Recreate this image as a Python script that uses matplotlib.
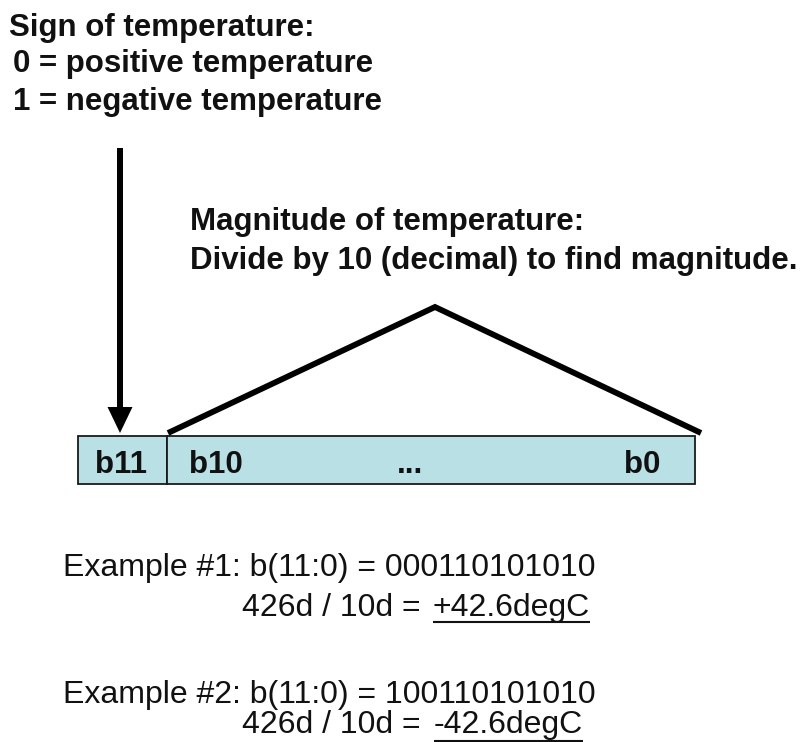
import matplotlib
matplotlib.use("Agg")
import matplotlib.pyplot as plt
from matplotlib.patches import Rectangle, FancyArrow

plt.rcParams['font.family'] = ['Liberation Sans', 'DejaVu Sans']

# ---- content ----
sign_lines = ["Sign of temperature:", "0 = positive temperature", "1 = negative temperature"]
mag_lines = ["Magnitude of temperature:", "Divide by 10 (decimal) to find magnitude."]
bit_labels = ["b11", "b10", "...", "b0"]
example_headers = ["Example #1: b(11:0) = 000110101010", "Example #2: b(11:0) = 100110101010"]
example_calc = ["426d / 10d =", "426d / 10d ="]
example_results = ["+42.6degC", "-42.6degC"]

W, H = 812, 742
fig = plt.figure(figsize=(W / 100, H / 100), dpi=100)
ax = fig.add_axes([0, 0, 1, 1])
ax.set_xlim(0, W)
ax.set_ylim(H, 0)
ax.axis('off')

txt = '#111111'
BOLD = 22.5
REG = 23

# sign text (baselines)
ax.text(9, 36, sign_lines[0], fontsize=BOLD, fontweight='bold', color=txt, va='baseline', ha='left')
ax.text(13, 72, sign_lines[1], fontsize=BOLD, fontweight='bold', color=txt, va='baseline', ha='left')
ax.text(13, 110, sign_lines[2], fontsize=BOLD, fontweight='bold', color=txt, va='baseline', ha='left')

# magnitude text
ax.text(190, 230, mag_lines[0], fontsize=BOLD, fontweight='bold', color=txt, va='baseline', ha='left')
ax.text(190, 269, mag_lines[1], fontsize=BOLD, fontweight='bold', color=txt, va='baseline', ha='left')

# register box
box_l, box_r, box_t, box_b, div_x = 78, 695, 436, 484, 167
fill = '#b9e0e5'
ax.add_patch(Rectangle((box_l, box_t), div_x - box_l, box_b - box_t, facecolor=fill, edgecolor='#1a1a1a', lw=1.3))
ax.add_patch(Rectangle((div_x, box_t), box_r - div_x, box_b - box_t, facecolor=fill, edgecolor='#1a1a1a', lw=1.3))
base = 473
ax.text(95, base, bit_labels[0], fontsize=BOLD, fontweight='bold', color=txt, va='baseline', ha='left')
ax.text(189, base, bit_labels[1], fontsize=BOLD, fontweight='bold', color=txt, va='baseline', ha='left')
ax.text(410, base, bit_labels[2], fontsize=BOLD, fontweight='bold', color=txt, va='baseline', ha='center')
ax.text(624, base, bit_labels[3], fontsize=BOLD, fontweight='bold', color=txt, va='baseline', ha='left')

# sign arrow
ax.add_patch(FancyArrow(120, 148, 0, 285, width=6, head_width=25, head_length=26,
                        length_includes_head=True, color='black', lw=0))

# magnitude bracket
ax.plot([168, 435, 701], [433, 307, 433], color='black', lw=4.2, solid_capstyle='butt', solid_joinstyle='miter')

# examples
ex_y = [576, 703]
calc_y = [616, 733]
ul_y = [622, 740.5]
res_x = [433, 434]
results = []
for i in range(2):
    ax.text(63, ex_y[i], example_headers[i], fontsize=REG, color=txt, va='baseline', ha='left')
    ax.text(242, calc_y[i], example_calc[i], fontsize=REG, color=txt, va='baseline', ha='left')
    results.append(ax.text(res_x[i], calc_y[i], example_results[i], fontsize=REG, color=txt,
                           va='baseline', ha='left'))

fig.canvas.draw()
r = fig.canvas.get_renderer()
inv = ax.transData.inverted()
for i, t in enumerate(results):
    bb = t.get_window_extent(r)
    (x0, _), (x1, _) = inv.transform([[bb.x0, bb.y0], [bb.x1, bb.y1]])
    ax.plot([x0, x1], [ul_y[i], ul_y[i]], color=txt, lw=1.5, solid_capstyle='butt')

fig.savefig('out.png', dpi=100, facecolor='white')
